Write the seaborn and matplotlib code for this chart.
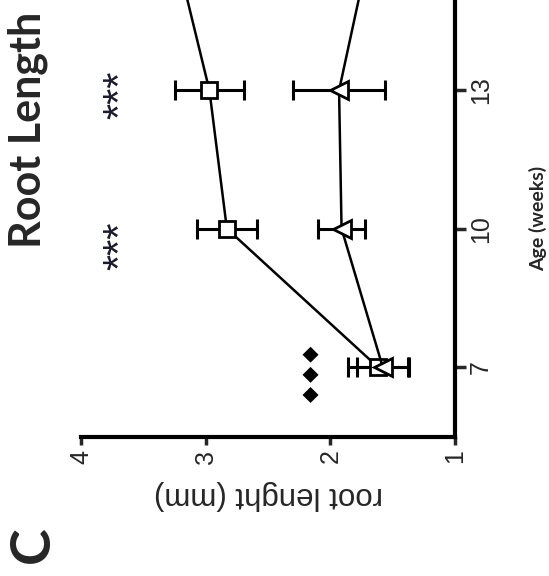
import numpy as np
import matplotlib.pyplot as plt
import seaborn as sns
import pandas as pd

# data (root length in mm vs age in weeks), panel is shown rotated 90 deg
age = [7, 10, 13, 16]
sq_mean = [1.62, 2.83, 2.97, 3.24]
sq_err = [0.24, 0.24, 0.28, 0.28]
tri_mean = [1.58, 1.91, 1.93, 1.69]
tri_err = [0.21, 0.19, 0.37, 0.30]

star_age = [9.62, 12.9]
star_val = 3.68
diamond_age = 6.85
diamond_val = 2.15

x_ticks = [1, 2, 3, 4]
age_ticks = [7, 10, 13]

sns.set_theme(style="white")
plt.rcParams['font.family'] = ['Liberation Sans', 'DejaVu Sans']

fig = plt.figure(figsize=(5.49, 5.76), dpi=100)
ax = fig.add_axes([81 / 549, 1 - 437 / 576, (455 - 81) / 549, 437 / 576])

df_sq = pd.DataFrame({"age": age, "root": sq_mean})
df_tri = pd.DataFrame({"age": age, "root": tri_mean})

ax.errorbar(sq_mean, age, xerr=sq_err, fmt='none', ecolor='black',
            elinewidth=2.2, capsize=7, capthick=2.2, zorder=2)
ax.errorbar(tri_mean, age, xerr=tri_err, fmt='none', ecolor='black',
            elinewidth=2.2, capsize=7, capthick=2.2, zorder=2)

sns.lineplot(data=df_sq, x="root", y="age", orient="y", ax=ax, color="black",
             marker="s", markersize=11, markerfacecolor="white",
             markeredgecolor="black", markeredgewidth=2, linewidth=1.8,
             errorbar=None, zorder=3)
sns.lineplot(data=df_tri, x="root", y="age", orient="y", ax=ax, color="black",
             marker="<", markersize=13, markerfacecolor="white",
             markeredgecolor="black", markeredgewidth=2, linewidth=1.8,
             errorbar=None, zorder=3)

# significance marks
for a in star_age:
    ax.text(star_val, a, "***", rotation=90, ha="center", va="center",
            fontsize=30, color="#1a1a2a")
ax.text(diamond_val, diamond_age, "◆\u2009◆\u2009◆", rotation=90, ha="center",
        va="center", fontsize=15, family="DejaVu Sans", color="black")

ax.set_xlim(4, 1)
ax.set_ylim(5.48, 14.96)
ax.set_xticks(x_ticks)
ax.set_yticks(age_ticks)
ax.yaxis.tick_right()
ax.yaxis.set_label_position("right")

for s in ["left", "top"]:
    ax.spines[s].set_visible(False)
for s in ["bottom", "right"]:
    ax.spines[s].set_linewidth(3)
    ax.spines[s].set_color("black")

ax.tick_params(axis="x", direction="out", length=6, width=2.5, labelsize=18,
               labelrotation=90, pad=3, bottom=True)
ax.tick_params(axis="y", direction="out", length=8, width=2.5, labelsize=18,
               labelrotation=90, pad=2, right=True, left=False)
for t in ax.get_yticklabels():
    t.set_verticalalignment("center")

ax.set_xlabel("root lenght (mm)", rotation=180, fontsize=22.5, labelpad=12)
ax.set_ylabel("Age (weeks)", rotation=90, fontsize=14, fontweight="bold",
              family="Lato", labelpad=26)

fig.text(28 / 549, 1 - 130 / 576, "Root Length", rotation=90, ha="center",
         va="center", fontsize=31, fontweight="bold", family="Lato")
fig.text(33 / 549, 1 - 545 / 576, "C", rotation=90, ha="center", va="center",
         fontsize=40, fontweight="bold", family="Lato")

fig.savefig("out.png", dpi=100)
